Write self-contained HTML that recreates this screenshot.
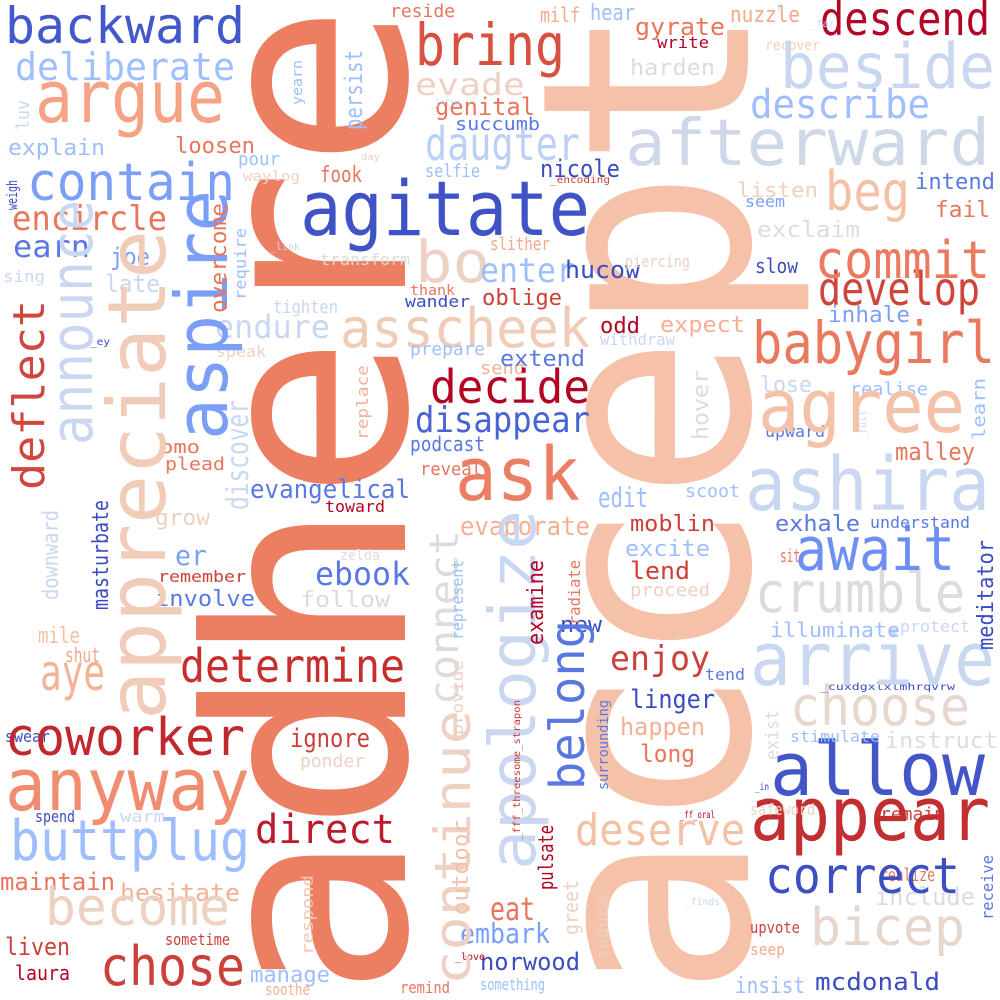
<!DOCTYPE html>
<html><head><meta charset="utf-8"><style>
html,body{margin:0;padding:0;background:#fff;}
svg{display:block;}
text{font-family:"DejaVu Sans Mono","Liberation Mono",monospace;}
</style></head><body>
<svg id="cloud" width="1000" height="1000" viewBox="0 0 1000 1000" xmlns="http://www.w3.org/2000/svg">
<rect width="1000" height="1000" fill="#fff"/>
</svg>
<script>
const DB="#3b4cc0",B="#5a78e4",MB="#7b9ff9",LB="#9ebeff",LG="#c9d7f0",G="#dddcdc",LP="#edd1c2",P="#f4c0a6",C="#e8765c",R="#cc403a",DR="#b40426";
// horizontal words: text, left x, baseline y, font size, color, length
const hWords=[
["backward",5,43,50,"#4358cb",240],["deliberate",15,80,38,LB,220],["argue",35,122,72,"#f6a385",190],
["explain",8,155,22,LB,97],["contain",27,200,52,MB,208],["loosen",175,153,22,C,80],
["encircle",12,230,34,C,155],["earn",13,257,30,B,77],["joe",110,265,24,MB,40],["late",105,292,24,LG,55],
["sing",3,282,16,LG,42],["_ey",90,345,10,DB,20],["mile",38,643,22,P,42],["shut",65,662,20,"#f4a98a",35],
["aye",40,690,50,"#f4b396",65],["swear",5,742,16,DB,45],["coworker",5,755,52,"#c0282d",240],
["anyway",5,810,72,"#f08c70",245],["spend",35,822,16,DB,40],["warm",120,822,16,LG,45],
["buttplug",10,860,56,LB,240],["maintain",0,890,24,C,115],["hesitate",120,901,24,"#f4b096",120],
["become",45,925,52,LP,185],["sometime",165,945,16,R,65],["liven",5,955,24,R,65],["laura",15,980,20,DR,55],
["chose",100,985,54,R,145],["manage",250,982,22,LB,80],["soothe",265,995,16,"#f4b096",45],
["remind",400,993,16,C,50],["something",480,990,16,LB,65],["norwood",480,970,24,DB,100],
["embark",460,943,28,MB,90],["eat",490,920,32,C,45],["deserve",575,845,44,P,170],["insist",735,993,22,LB,70],
["mcdonald",815,990,24,DB,125],["seep",750,955,16,"#f4a98a",35],["upvote",750,933,16,R,50],
["bicep",810,945,52,"#e6d6cc",155],["include",875,905,24,G,100],["realize",880,881,18,C,55],
["remain",880,820,18,R,65],["correct",765,893,50,"#3d50c3",195],["appear",750,840,74,"#c32e31",240],
["safeword",750,815,16,LP,65],["allow",770,795,74,"#4256c8",215],["_in",755,790,10,DB,14],
["stimulate",790,742,16,LB,90],["instruct",885,748,22,G,113],["choose",790,725,54,"#e7d7ce",180],
["_cuxdgxlxlmhrqvrw",820,690,10,DB,135],["arrive",750,685,74,LG,245],["illuminate",770,637,20,LB,130],
["protect",900,632,16,LG,70],["crumble",755,612,56,G,210],["tend",705,680,16,B,40],["sit",780,562,18,C,20],
["await",795,570,60,"#6c8ff1",160],["understand",870,528,16,B,100],["exhale",775,531,22,B,85],
["ashira",745,510,74,LG,245],["malley",895,460,24,C,80],["upward",765,437,16,B,60],["realise",850,395,18,LB,78],
["lose",760,392,22,LG,52],["agree",758,432,74,"#f4c2a8",207],["babygirl",752,363,58,"#e97a5f",243],
["inhale",828,322,22,MB,82],["develop",818,305,46,"#cf453c",162],["commit",815,278,52,"#ea7b60",175],
["slow",755,273,20,DB,43],["seem",745,207,16,MB,40],["exclaim",757,237,22,G,103],["intend",915,189,22,B,80],
["fail",935,217,22,C,55],["beg",825,210,54,P,85],["listen",737,197,20,LP,81],["describe",750,118,40,LB,180],
["beside",780,88,62,LG,215],["descend",820,35,46,DR,170],["afterward",625,165,64,"#cfd8e8",365],
["recover",765,50,14,LP,55],["_far",810,27,10,LG,25],["_f",770,12,10,LG,12],["write",657,48,16,DR,52],
["gyrate",635,35,24,C,90],["nuzzle",730,22,22,"#f4a98a",70],["hear",590,20,22,LB,45],["milf",540,22,20,"#f4a98a",40],
["reside",390,17,18,C,65],["harden",630,75,22,G,85],["bring",415,65,58,"#d8503f",150],["evade",415,95,30,LP,110],
["genital",435,115,24,C,100],["_intro",430,106,10,LG,30],["succumb",455,130,18,B,85],["daugter",425,160,46,"#bcd0f5",155],
["_day",355,160,10,LP,25],["selfie",425,177,18,LB,55],["_encoding",550,183,10,R,60],["pour",238,165,18,LB,42],
["waylog",243,181,14,LP,57],["fook",320,182,22,C,42],["nicole",540,177,24,DB,80],["agitate",300,235,76,"#3f53c6",290],
["_link",270,250,10,LG,30],["transform",320,265,16,G,90],["bo",415,282,58,LP,75],["enter",480,282,34,LB,95],
["slither",490,250,18,"#f4a98a",60],["hucow",565,278,24,DB,75],["piercing",625,267,16,LP,65],
["asscheek",340,347,54,"#f1cbb5",250],["oblige",482,305,22,R,80],["thank",410,295,14,C,45],["wander",405,307,16,DB,65],
["tighten",273,313,18,LG,65],["endure",215,338,32,LG,115],["odd",600,333,22,DR,40],["expect",660,332,22,"#f4b096",85],
["withdraw",600,345,16,LG,75],["speak",216,357,16,LP,50],["prepare",410,355,18,LB,75],["send",480,374,18,"#f4b096",45],
["extend",500,366,22,B,85],["decide",430,403,46,DR,160],["disappear",415,432,36,"#4a63d3",175],["podcast",410,451,20,B,75],
["ask",455,500,74,"#ec7f63",125],["reveal",420,475,18,C,62],["evangelical",250,498,26,B,160],["toward",325,512,16,DR,60],
["evaporate",460,535,26,"#f4b096",130],["omo",160,453,18,C,40],["plead",165,470,18,C,60],["grow",155,525,22,LP,55],
["er",175,565,28,MB,32],["remember",158,582,16,R,88],["involve",155,606,22,B,100],["zelda",340,560,14,G,40],
["ebook",315,585,32,"#5b78e0",95],["follow",300,607,22,G,90],["determine",180,682,46,"#c72f2f",225],
["ignore",290,747,26,R,80],["ponder",300,767,18,LP,65],["direct",255,843,40,"#bb1b2c",140],["new",560,632,22,DB,42],
["edit",598,507,28,LB,50],["scoot",685,497,18,LB,55],["moblin",630,531,22,R,85],["excite",625,556,22,LB,85],
["lend",630,579,24,R,60],["proceed",630,596,18,LP,80],["enjoy",610,670,34,R,100],["linger",630,708,26,DB,85],
["happen",620,735,24,"#f4b096",85],["long",640,762,24,C,55],["_ff_oral",680,818,10,DR,35],["_finds",685,905,10,LG,35],
["_love",455,960,10,DR,30]
];
// vertical words (read bottom to top): text, baseline x, bottom y, font size, color, length
const vWords=[
["adhere",405,998,275,"#ec7f62",995],["accept",748,998,290,"#f5c1a8",995],
["deflect",44,490,44,"#d0473d",190],["announce",92,445,58,LG,245],["appreciate",165,720,80,"#f1ccb8",490],
["aspire",227,440,72,MB,250],["masturbate",108,610,22,DB,110],["downward",58,600,22,LG,90],["weigh",17,210,14,DB,30],
["luv",29,130,18,LG,30],
["overcome",226,313,22,C,110],["require",246,300,16,LB,72],["discover",248,510,30,LG,110],["persist",362,130,24,LB,80],
["yearn",302,105,14,LB,45],["replace",368,440,16,"#f4b096",75],["connect",458,705,40,G,175],["continue",470,985,50,LP,275],
["apologize",535,870,64,LG,360],["belong",584,790,48,"#5977e3",170],["examine",543,645,22,DR,85],["radiate",580,625,16,C,65],
["represent",463,640,16,LB,80],["provide",463,735,16,LP,75],["hover",708,440,22,G,70],["surrounding",608,790,14,B,90],
["_fff_threesome_strapon",520,840,10,R,140],["pulsate",553,890,20,DR,65],["greet",578,935,20,LP,55],
["outdoor",468,915,22,"#f4c0a6",95],["respond",313,955,16,"#f4c5ad",80],["seduce",608,960,16,LP,65],
["exist",778,760,18,G,50],["meditator",993,650,22,DB,110],["learn",985,440,18,LB,62],["_full",866,440,10,LG,30],
["receive",993,920,16,B,65]
];
const svg=document.getElementById('cloud');
const NS="http://www.w3.org/2000/svg";
function mk(w,vert){
  const t=document.createElementNS(NS,'text');
  
  
  t.setAttribute('font-size',w[3]);
  t.setAttribute('fill',w[4]);
  t.setAttribute('textLength',w[5]);
  t.setAttribute('lengthAdjust','spacingAndGlyphs');
  if(vert){t.setAttribute('transform','translate('+w[1]+','+w[2]+') rotate(-90)');t.setAttribute('x',0);t.setAttribute('y',0);}
  else{t.setAttribute('x',w[1]);t.setAttribute('y',w[2]);}
  t.textContent=w[0];
  svg.appendChild(t);
}
vWords.slice(0,2).forEach(w=>mk(w,true));
hWords.forEach(w=>mk(w,false));
vWords.slice(2).forEach(w=>mk(w,true));
</script>
</body></html>
